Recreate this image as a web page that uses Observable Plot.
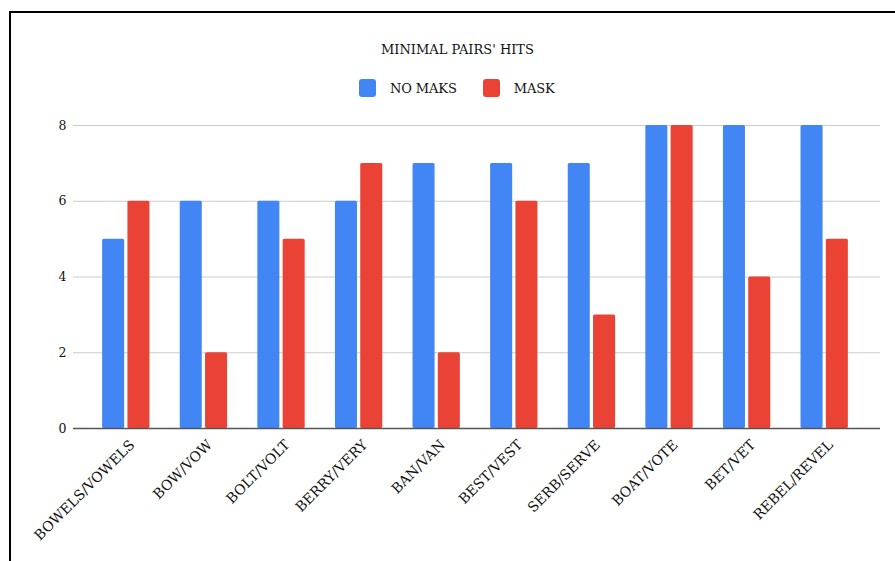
<!DOCTYPE html>
<html>
<head>
<meta charset="utf-8">
<script src="https://cdn.jsdelivr.net/npm/d3@7"></script>
<script src="https://cdn.jsdelivr.net/npm/@observablehq/plot@0.6"></script>
<style>
  html, body { margin: 0; padding: 0; background: #fff; }
  #page { position: relative; width: 895px; height: 561px; overflow: hidden; font-family: "DejaVu Serif", "Liberation Serif", serif; }
  #frame { position: absolute; left: 9px; top: 11px; width: 900px; height: 560px; border-top: 2px solid #000; border-left: 2px solid #000; }
  #title { position: absolute; top: 42px; left: 381px; font-size: 13px; color: #111; letter-spacing: 0px; white-space: nowrap; }
  #legend { position: absolute; top: 79px; left: 359px; display: flex; align-items: center; font-size: 13px; color: #111; letter-spacing: -0.1px; white-space: nowrap; }
  .sw { width: 17px; height: 18px; border-radius: 3px; display: inline-block; margin-right: 14px; }
  #chart { position: absolute; left: 0; top: 110px; }
</style>
</head>
<body>
<div id="page">
  <div id="frame"></div>
  <div id="title"></div>
  <div id="legend"></div>
  <div id="chart"></div>
</div>
<script>
const categories = ["BOWELS/VOWELS", "BOW/VOW", "BOLT/VOLT", "BERRY/VERY", "BAN/VAN", "BEST/VEST", "SERB/SERVE", "BOAT/VOTE", "BET/VET", "REBEL/REVEL"];
const seriesNames = ["NO MAKS", "MASK"];
const noMask = [5, 6, 6, 6, 7, 7, 7, 8, 8, 8];
const mask = [6, 2, 5, 7, 2, 6, 3, 8, 4, 5];
const yTicks = [0, 2, 4, 6, 8];
const colors = ["#4285F4", "#EA4335"];
const titleText = "MINIMAL PAIRS' HITS";

document.getElementById("title").textContent = titleText;
const legend = document.getElementById("legend");
seriesNames.forEach((s, i) => {
  const sw = document.createElement("span");
  sw.className = "sw";
  sw.style.background = colors[i];
  legend.appendChild(sw);
  const t = document.createElement("span");
  t.textContent = s;
  t.style.marginRight = i === 0 ? "26px" : "0";
  legend.appendChild(t);
});

const rowsA = categories.map((c, i) => ({category: c, value: noMask[i]}));
const rowsB = categories.map((c, i) => ({category: c, value: mask[i]}));

const font = "DejaVu Serif, Liberation Serif, serif";
const chart = Plot.plot({
  width: 895,
  height: 451,
  marginLeft: 87,
  marginRight: 32,
  marginTop: 15,
  marginBottom: 133,
  style: {fontFamily: font, fontSize: "12px", color: "#111", background: "transparent"},
  x: {domain: categories, paddingInner: 0.39, paddingOuter: 0.195, round: false, label: null},
  y: {domain: [0, 8], label: null},
  marks: [
    Plot.ruleY(yTicks.filter(d => d > 0), {stroke: "#cccccc", strokeWidth: 1, insetLeft: -14, insetRight: -17}),
    Plot.barY(rowsA, {x: "category", y: "value", fill: colors[0], insetRight: 25.3, rx: 1.5}),
    Plot.barY(rowsB, {x: "category", y: "value", fill: colors[1], insetLeft: 25.3, rx: 1.5}),
    Plot.ruleY([0], {stroke: "#555", strokeWidth: 1.5, insetLeft: -14, insetRight: -17}),
    Plot.axisY({ticks: yTicks, tickSize: 0, tickPadding: 21, label: null, fontSize: 12.5}),
    Plot.axisX({tickSize: 0, tickRotate: -45, tickPadding: 14, dx: 6, label: null, fontSize: 14})
  ]
});
document.getElementById("chart").appendChild(chart);
</script>
</body>
</html>
